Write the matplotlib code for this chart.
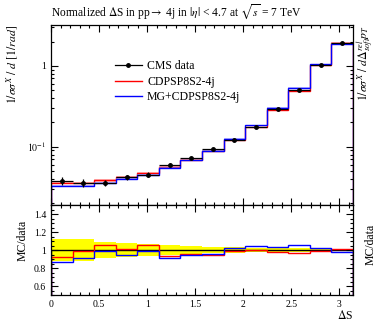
import numpy as np
import matplotlib
matplotlib.use("Agg")
import matplotlib.pyplot as plt
from matplotlib.lines import Line2D
from matplotlib.ticker import MultipleLocator, FixedLocator, FuncFormatter, LogLocator, NullFormatter

plt.rcParams['font.family'] = ['Liberation Serif', 'DejaVu Serif']
plt.rcParams['mathtext.fontset'] = 'stix'

# ---- data ----
n_bins = 14
edges = np.linspace(0, np.pi, n_bins + 1)
cms_data = [0.038, 0.036, 0.036, 0.042, 0.045, 0.060, 0.072, 0.093, 0.122, 0.175, 0.29, 0.505, 1.02, 1.9]
cms_relerr = [0.12, 0.12, 0.085, 0.077, 0.069, 0.058, 0.047, 0.037, 0.029, 0.022, 0.022, 0.022, 0.015, 0.015]
cdpsp = [0.0352, 0.0356, 0.0382, 0.0425, 0.0473, 0.0561, 0.0690, 0.0881, 0.1208, 0.1741, 0.2851, 0.4909, 1.0098, 1.930]
mg_cdpsp = [0.0328, 0.0329, 0.0356, 0.0399, 0.0446, 0.0544, 0.0677, 0.0884, 0.1244, 0.1829, 0.2999, 0.5333, 1.0475, 1.8677]
mc_relerr = [0.03, 0.03, 0.03, 0.03, 0.025, 0.025, 0.02, 0.02, 0.02, 0.02, 0.02, 0.015, 0.015, 0.015]

labels = ["CMS data", "CDPSP8S2-4j", "MG+CDPSP8S2-4j"]
colors = ["black", "#ff0000", "#0000ff"]

data = np.array(cms_data)
derr = data * np.array(cms_relerr)
red = np.array(cdpsp)
blue = np.array(mg_cdpsp)
mcerr = np.array(mc_relerr)
centers = 0.5 * (edges[1:] + edges[:-1])
halfw = 0.5 * np.diff(edges)

W, H = 376, 321
fig = plt.figure(figsize=(W / 100, H / 100), dpi=100)
L, R = 51, 353
ax = fig.add_axes([L / W, 1 - 205 / H, (R - L) / W, 180 / H])
axr = fig.add_axes([L / W, 1 - 295 / H, (R - L) / W, 90 / H], sharex=ax)

# main panel
for vals, col, lc in [(red, colors[1], "#ff9090"), (blue, colors[2], "#9090ff")]:
    ax.stairs(vals * (1 + mcerr), edges, baseline=vals * (1 - mcerr), fill=True,
              color=lc, alpha=0.6, lw=0)
    ax.stairs(vals, edges, color=col, lw=1.0)
ax.errorbar(centers, data, yerr=derr, xerr=halfw, fmt='o', color='black',
            ms=2.5, lw=0.9, capsize=0)
ax.set_yscale('log')
ax.set_ylim(0.019, 3.2)
ax.set_xlim(0, np.pi)

handles = [Line2D([], [], color='black', marker='o', ms=2.5, lw=0.9),
           Line2D([], [], color=colors[1], lw=1.0),
           Line2D([], [], color=colors[2], lw=1.0)]
ax.legend(handles, labels, loc='upper left', bbox_to_anchor=(0.195, 0.83),
          frameon=False, fontsize=8.5, handlelength=2.3, handletextpad=0.45,
          labelspacing=0.3, numpoints=1, borderaxespad=0)

# ratio panel
rel = np.array(cms_relerr)
axr.stairs(1 + rel, edges, baseline=1 - rel, fill=True, color='#ffff00', lw=0)
axr.stairs(data / data, edges, color='black', lw=1.0)
axr.stairs(red / data, edges, color=colors[1], lw=1.0)
axr.stairs(blue / data, edges, color=colors[2], lw=1.0)
axr.set_ylim(0.5, 1.5)
axr.set_xlim(0, np.pi)

for a in (ax, axr):
    a.tick_params(which='both', direction='in', top=True, right=True, labelsize=7,
                  width=0.8)
    a.tick_params(which='major', length=5)
    a.tick_params(which='minor', length=2.5)
    for s in a.spines.values():
        s.set_linewidth(0.9)
    a.xaxis.set_major_locator(MultipleLocator(0.5))
    a.xaxis.set_minor_locator(MultipleLocator(0.1))

ax.tick_params(labelbottom=False)
ax.yaxis.set_major_locator(LogLocator(base=10, numticks=10))
ax.yaxis.set_minor_locator(LogLocator(base=10, subs=np.arange(2, 10), numticks=20))
ax.yaxis.set_minor_formatter(NullFormatter())
ax.yaxis.set_major_formatter(FuncFormatter(lambda v, p: "1" if abs(v - 1) < 1e-9 else (r"$10^{-1}$" if abs(v - 0.1) < 1e-9 else "")))

axr.yaxis.set_major_locator(FixedLocator([0.6, 0.8, 1.0, 1.2, 1.4]))
axr.yaxis.set_minor_locator(MultipleLocator(0.05))
axr.yaxis.set_major_formatter(FuncFormatter(lambda v, p: "%g" % v))
axr.xaxis.set_major_formatter(FuncFormatter(lambda v, p: "%g" % v))

axr.set_xlabel(r"$\Delta$S", loc='right', fontsize=8.5, labelpad=0)

fig.text(L / W, 1 - 12 / H,
         r"Normalized $\Delta$S in pp$\rightarrow$ 4j in $|\eta|$ < 4.7 at $\sqrt{s}$ = 7 TeV",
         fontsize=8.3, ha='left', va='center')
fig.text(13 / W, 1 - 25 / H, r"$1/\sigma\sigma^{X}\ /\ d\ [1/rad]$", rotation=90,
         fontsize=8.5, ha='center', va='top')
fig.text(366 / W, 1 - 25 / H, r"$1/\sigma\sigma^{X}\ /\ d\Delta^{rel}_{soft}p_T$", rotation=90,
         fontsize=8.5, ha='center', va='top')
fig.text(23 / W, 1 - 240 / H, "MC/data", rotation=90, fontsize=8.5, ha='center', va='center')
fig.text(371 / W, 1 - 244 / H, "MC/data", rotation=90, fontsize=8.5, ha='center', va='center')

fig.savefig("out.png", dpi=100)
